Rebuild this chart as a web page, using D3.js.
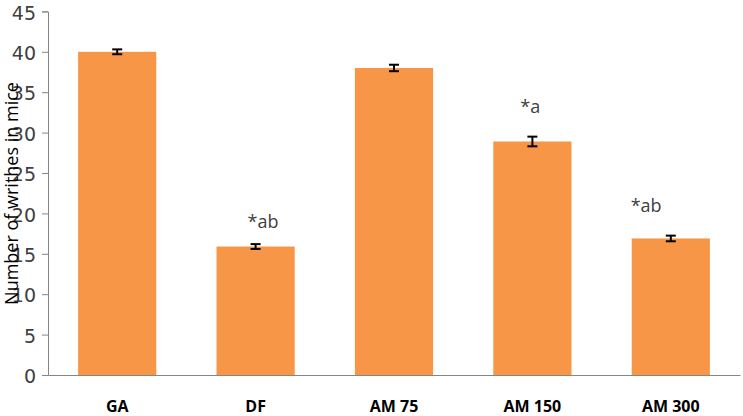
<!DOCTYPE html>
<html>
<head>
<meta charset="utf-8">
<script src="https://cdn.jsdelivr.net/npm/d3@7"></script>
<style>
  body { margin: 0; background: #fff; }
  svg { display: block; }
</style>
</head>
<body>
<svg width="743" height="416"></svg>
<script>
// data
const groups = ["GA", "DF", "AM 75", "AM 150", "AM 300"];
const writhes = [40, 15.9, 38, 28.9, 16.9];
const errors = [0.3, 0.3, 0.4, 0.6, 0.35];
const marks = ["", "*ab", "", "*a", "*ab"];
const yTicks = [0, 5, 10, 15, 20, 25, 30, 35, 40, 45];

const svg = d3.select("svg");
const area = { left: 48, right: 740, top: 11.4, bottom: 375 };

let scX = d3.scaleBand()
    .domain(groups)
    .range([area.left, area.right])
    .paddingInner(0.435)
    .paddingOuter(0.2175);

let scY = d3.scaleLinear()
    .domain([0, 45])
    .range([area.bottom, area.top]);

// y axis
let gy = svg.append("g")
    .attr("transform", `translate(${area.left},0)`)
    .call(d3.axisLeft(scY).tickValues(yTicks).tickSize(6).tickPadding(6));
gy.select(".domain").attr("stroke", "#868686");
gy.selectAll(".tick line").attr("stroke", "#868686");
gy.selectAll(".tick text")
    .attr("fill", "#404040")
    .attr("dy", "0.4em")
    .style("font-family", "DejaVu Sans, sans-serif")
    .style("font-size", "19px");

// x axis
let gx = svg.append("g")
    .attr("transform", `translate(0,${area.bottom})`)
    .call(d3.axisBottom(scX).tickSize(0).tickPadding(26));
gx.select(".domain").attr("stroke", "#868686");
gx.selectAll(".tick text")
    .attr("fill", "#000")
    .style("font-family", "Open Sans, sans-serif")
    .style("font-weight", "bold")
    .style("font-size", "16px");

const data = groups.map((g, i) => ({ g: g, v: writhes[i], e: errors[i], m: marks[i] }));

// bars
svg.selectAll(".bar")
    .data(data)
    .enter()
    .append("rect")
    .attr("x", d => scX(d.g))
    .attr("y", d => scY(d.v))
    .attr("width", scX.bandwidth())
    .attr("height", d => scY(0) - scY(d.v))
    .style("fill", "#F79646");

// error bars
const cx = d => scX(d.g) + scX.bandwidth() / 2;
let err = svg.selectAll(".err")
    .data(data)
    .enter()
    .append("g")
    .style("stroke", "#000")
    .style("stroke-width", 2);
err.append("line")
    .attr("x1", cx).attr("x2", cx)
    .attr("y1", d => scY(d.v + d.e)).attr("y2", d => scY(d.v - d.e));
err.append("line")
    .attr("x1", d => cx(d) - 5).attr("x2", d => cx(d) + 5)
    .attr("y1", d => scY(d.v + d.e)).attr("y2", d => scY(d.v + d.e));
err.append("line")
    .attr("x1", d => cx(d) - 5).attr("x2", d => cx(d) + 5)
    .attr("y1", d => scY(d.v - d.e)).attr("y2", d => scY(d.v - d.e));

// significance marks, hand placed like in the original (offset from bar left / bar top)
const markShift = { "DF": [31, -19], "AM 150": [27, -28], "AM 300": [-1, -26] };
svg.selectAll(".mark")
    .data(data.filter(d => d.m !== ""))
    .enter()
    .append("text")
    .attr("x", d => scX(d.g) + markShift[d.g][0])
    .attr("y", d => scY(d.v) + markShift[d.g][1])
    .attr("fill", "#404040")
    .style("font-family", "Open Sans, sans-serif")
    .style("font-size", "18px")
    .text(d => d.m);

// y axis title (sits over tick labels as in the original)
svg.append("text")
    .attr("transform", `translate(18,193.5) rotate(-90)`)
    .attr("text-anchor", "middle")
    .attr("fill", "#000")
    .style("font-family", "Open Sans, sans-serif")
    .style("font-size", "18px")
    .text("Number of writhes in mice");
</script>
</body>
</html>
